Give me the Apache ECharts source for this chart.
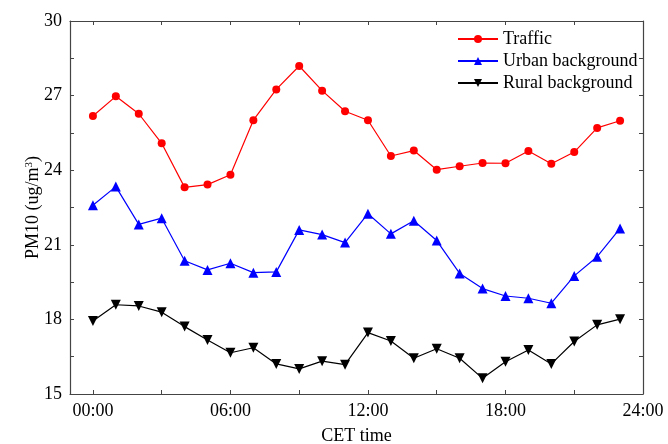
<!DOCTYPE html>
<html><head><meta charset="utf-8">
<script src="https://cdn.jsdelivr.net/npm/echarts@6/dist/echarts.min.js"></script>
<style>html,body{margin:0;padding:0;background:#fff}#c{width:668px;height:444px}</style>
</head><body><div id="c"></div>
<script>
const hours = [0,1,2,3,4,5,6,7,8,9,10,11,12,13,14,15,16,17,18,19,20,21,22,23];
const traffic = [26.18,26.97,26.27,25.08,23.31,23.42,23.82,26.01,27.25,28.19,27.20,26.37,26.01,24.57,24.79,24.02,24.16,24.29,24.28,24.77,24.26,24.73,25.70,25.99];
const urban = [22.59,23.34,21.82,22.07,20.36,19.99,20.26,19.88,19.91,21.60,21.41,21.09,22.25,21.44,21.97,21.17,19.85,19.24,18.94,18.85,18.65,19.75,20.52,21.66];
const rural = [17.94,18.59,18.54,18.29,17.71,17.17,16.66,16.86,16.21,16.01,16.32,16.18,17.47,17.13,16.44,16.82,16.44,15.63,16.30,16.77,16.21,17.11,17.78,18.01];
const xTicks = [0,3,6,9,12,15,18,21,24];
const xLabels = [0,6,12,18,24];
const seriesNames = ['Traffic','Urban background','Rural background'];

const font = 'Liberation Serif';
const axisLine = {show:true, onZero:false, lineStyle:{color:'#444', width:1.2}};
const pair = arr => hours.map((h,i)=>[h, arr[i]]);
const fmtHour = v => (v<10?'0':'')+v+':00';

const chart = echarts.init(document.getElementById('c'), null, {renderer:'canvas'});
chart.setOption({
  animation:false,
  backgroundColor:'#fff',
  grid:{left:70, right:25, top:21, bottom:50, containLabel:false, outerBoundsMode:'none'},
  legend:{
    orient:'vertical', left:452, top:25, itemWidth:40, itemHeight:10, itemGap:4,
    textStyle:{fontFamily:font, fontSize:18, color:'#000'},
    data: seriesNames
  },
  xAxis:[{
    type:'value', min:-1, max:24, position:'bottom',
    axisLine, splitLine:{show:false},
    axisTick:{show:true, inside:true, length:4, customValues:xTicks, lineStyle:{color:'#444'}},
    axisLabel:{customValues:xLabels, formatter:fmtHour, fontFamily:font, fontSize:18, color:'#000', margin:8},
    name:'CET time', nameLocation:'middle', nameGap:33,
    nameTextStyle:{fontFamily:font, fontSize:18, color:'#000'}
  },{
    type:'value', min:-1, max:24, position:'top',
    axisLine, splitLine:{show:false},
    axisTick:{show:true, inside:true, length:4, customValues:xTicks, lineStyle:{color:'#444'}},
    axisLabel:{show:false}
  }],
  yAxis:[{
    type:'value', min:15, max:30, interval:1.5, position:'left',
    axisLine, splitLine:{show:false},
    axisTick:{show:true, inside:true, length:4, lineStyle:{color:'#444'}},
    axisLabel:{formatter:v => (Math.abs(v%3)<1e-6 ? String(v) : ''), fontFamily:font, fontSize:18, color:'#000', margin:8},
    name:'PM10 (ug/m{sup|3})', nameLocation:'middle', nameGap:27, nameMoveOverlap:false,
    nameTextStyle:{fontFamily:font, fontSize:18, color:'#000', rich:{sup:{fontFamily:font, fontSize:11, verticalAlign:'top', padding:[0,0,8,0], color:'#000'}}}
  },{
    type:'value', min:15, max:30, interval:1.5, position:'right',
    axisLine, splitLine:{show:false},
    axisTick:{show:true, inside:true, length:4, lineStyle:{color:'#444'}},
    axisLabel:{show:false}
  }],
  series:[
    {name:seriesNames[0], type:'line', data:pair(traffic), symbol:'circle', symbolSize:8,
     itemStyle:{color:'#ff0000'}, lineStyle:{color:'#ff0000', width:1.2}},
    {name:seriesNames[1], type:'line', data:pair(urban), symbol:'triangle', symbolSize:10,
     itemStyle:{color:'#0000ff'}, lineStyle:{color:'#0000ff', width:1.2}},
    {name:seriesNames[2], type:'line', data:pair(rural), symbol:'triangle', symbolRotate:180, symbolSize:10,
     itemStyle:{color:'#000000'}, lineStyle:{color:'#000000', width:1.2}}
  ]
});
</script></body></html>
